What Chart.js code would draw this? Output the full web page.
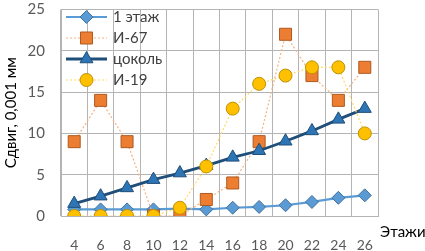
<!DOCTYPE html>
<html><head><meta charset="utf-8">
<script src="https://cdn.jsdelivr.net/npm/chart.js@4"></script>
<style>html,body{margin:0;padding:0;background:#fff}#w{width:425px;height:251px;position:relative}</style>
</head><body><div id="w"><canvas id="c"></canvas></div>
<script>
const categories = ["4","6","8","10","12","14","16","18","20","22","24","26"];
const floor1 = [0.8,0.8,0.8,0.8,0.9,0.8,1.0,1.1,1.3,1.7,2.2,2.5];
const i67 = [9,14,9,0,0,2,4,9,22,17,14,18];
const plinth = [1.5,2.4,3.4,4.4,5.2,6.1,7.1,7.9,9.05,10.3,11.7,13.0];
const i19 = [0,0,0,0,1,6,13,16,17,18,18,10];
const seriesNames = ["1 этаж","И-67","цоколь","И-19"];
const yTicks = [0,5,10,15,20,25];
const FONT = "Lato, 'Open Sans', sans-serif";

const datasets = [
  {label:seriesNames[0], data:floor1, order:4, borderColor:'#5B9BD5', borderWidth:2.2,
   pointStyle:'rectRot', pointRadius:6.5, pointBackgroundColor:'#5B9BD5', pointBorderColor:'#41719C', pointBorderWidth:1},
  {label:seriesNames[1], data:i67, order:3, borderColor:'#F4B183', borderWidth:1.2, borderDash:[2,2],
   pointStyle:'rect', pointRadius:8.5, pointBackgroundColor:'#ED7D31', pointBorderColor:'#AE5A21', pointBorderWidth:1},
  {label:seriesNames[2], data:plinth, order:2, borderColor:'#1F4E79', borderWidth:2.8,
   pointStyle:'triangle', pointRadius:7.5, pointBackgroundColor:'#2E75B6', pointBorderColor:'#1F4E79', pointBorderWidth:1},
  {label:seriesNames[3], data:i19, order:1, borderColor:'#FFD966', borderWidth:1.2, borderDash:[2,2],
   pointStyle:'circle', pointRadius:6.5, pointBackgroundColor:'#FFC000', pointBorderColor:'#BF9000', pointBorderWidth:1}
];
datasets.forEach(d=>{d.tension=0; d.fill=false;});

const legendPlugin = {
  id:'inLegend',
  afterDraw(chart){
    const ctx = chart.ctx;
    const x0 = 66, x1 = 107, tx = 113, y0 = 17, dy = 21;
    ctx.save();
    chart.data.datasets.forEach((d,i)=>{
      const y = y0 + i*dy;
      ctx.beginPath();
      ctx.strokeStyle = d.borderColor; ctx.lineWidth = d.borderWidth;
      ctx.setLineDash(d.borderDash||[]);
      ctx.moveTo(x0,y); ctx.lineTo(x1,y); ctx.stroke();
      ctx.setLineDash([]);
      ctx.fillStyle = d.pointBackgroundColor; ctx.strokeStyle = d.pointBorderColor; ctx.lineWidth = d.pointBorderWidth;
      Chart.helpers.drawPoint(ctx, {pointStyle:d.pointStyle, radius:d.pointRadius, borderWidth:1}, (x0+x1)/2, y);
      ctx.fillStyle = '#404040'; ctx.font = "15px " + FONT; ctx.textBaseline='middle'; ctx.textAlign='left';
      ctx.fillText(d.label, tx, y);
    });
    ctx.fillStyle = '#000'; ctx.font = "15px " + FONT; ctx.textBaseline='middle'; ctx.textAlign='left';
    ctx.fillText("Этажи", 380, 232);
    ctx.restore();
  }
};

new Chart(document.getElementById('c'), {
  type:'line',
  data:{labels:categories, datasets},
  options:{
    responsive:true, maintainAspectRatio:false, animation:false,
    layout:{padding:{left:0, top:7, right:47, bottom:0}},
    plugins:{legend:{display:false}, tooltip:{enabled:false}},
    scales:{
      x:{offset:true, grid:{offset:true, color:'#B4B4B4', lineWidth:1, drawTicks:false},
         border:{color:'#B4B4B4'},
         ticks:{color:'#595959', font:{family:FONT, size:14}, padding:21, maxRotation:0, autoSkip:false},
         afterFit(s){s.height = 35;}},
      y:{min:0, max:25, afterBuildTicks(s){s.ticks = yTicks.map(v=>({value:v}));},
         grid:{color:'#B4B4B4', lineWidth:1, drawTicks:false}, border:{color:'#B4B4B4'},
         ticks:{color:'#595959', font:{family:FONT, size:15}, padding:16},
         title:{display:true, text:'Сдвиг, 0,001 мм', color:'#000', font:{family:FONT, size:15}, padding:{top:2,bottom:0}},
         afterFit(s){s.width = 61; s.paddingTop = 0; s.paddingBottom = 0;}}
    }
  },
  plugins:[legendPlugin]
});
</script></body></html>
